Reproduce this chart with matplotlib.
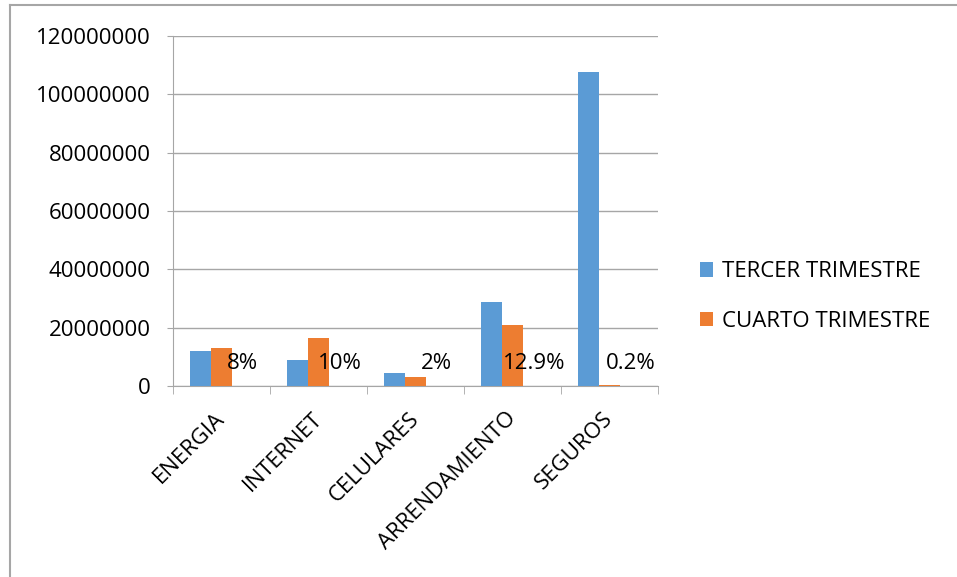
import matplotlib.pyplot as plt
import numpy as np
from matplotlib.lines import Line2D
from matplotlib.transforms import ScaledTranslation

categorias = ['ENERGIA', 'INTERNET', 'CELULARES', 'ARRENDAMIENTO', 'SEGUROS']
tercer = [12000000, 8900000, 4500000, 28800000, 107700000]
cuarto = [13000000, 16500000, 3100000, 20900000, 250000]
porcentaje = [0.08, 0.10, 0.02, 0.129, 0.002]
etiquetas = ['8%', '10%', '2%', '12.9%', '0.2%']

plt.rcParams['font.family'] = ['Open Sans', 'DejaVu Sans']

fig = plt.figure(figsize=(9.57, 5.77), dpi=100)
ax = fig.add_axes([0.1808, 0.331, 0.5068, 0.6066])

x = np.arange(len(categorias))
w = 0.22
ax.bar(x - w, tercer, w, color='#5B9BD5', label='TERCER TRIMESTRE', zorder=3)
ax.bar(x, cuarto, w, color='#ED7D31', label='CUARTO TRIMESTRE', zorder=3)
b3 = ax.bar(x + w, porcentaje, w, color='none', zorder=3)
ax.bar_label(b3, labels=etiquetas, padding=9, fontsize=16, color='black')

ax.set_ylim(0, 120000000)
ax.set_xlim(-0.5, 4.5)
ax.set_yticks(np.arange(0, 120000001, 20000000))
ax.set_yticklabels([str(v) for v in range(0, 120000001, 20000000)], fontsize=16)
ax.yaxis.grid(True, color='#A6A6A6', linewidth=1, zorder=0)
ax.tick_params(axis='y', length=4, color='#A6A6A6', pad=12)

ax.set_xticks(x)
ax.set_xticklabels(categorias, rotation=45, ha='right', rotation_mode='anchor', fontsize=16)
ax.tick_params(axis='x', which='major', length=0, pad=16)
ax.set_xticks(np.arange(-0.5, 5, 1), minor=True)
ax.tick_params(axis='x', which='minor', length=6, color='#A6A6A6')
shift = ScaledTranslation(-7 / 100, 0, fig.dpi_scale_trans)
for lbl in ax.get_xticklabels():
    lbl.set_transform(lbl.get_transform() + shift)

for s in ['top', 'right']:
    ax.spines[s].set_visible(False)
for s in ['left', 'bottom']:
    ax.spines[s].set_color('#A6A6A6')

ax.legend(loc='center left', bbox_to_anchor=(1.045, 0.255), frameon=False,
          fontsize=16, handlelength=0.6, handleheight=0.6, labelspacing=1.3,
          handletextpad=0.4)

fig.add_artist(Line2D([10 / 957, 10 / 957], [0, 1 - 5 / 577], color='#A6A6A6', lw=1.5))
fig.add_artist(Line2D([10 / 957, 1], [1 - 5 / 577, 1 - 5 / 577], color='#A6A6A6', lw=1.5))

fig.savefig('out.png', dpi=100)
